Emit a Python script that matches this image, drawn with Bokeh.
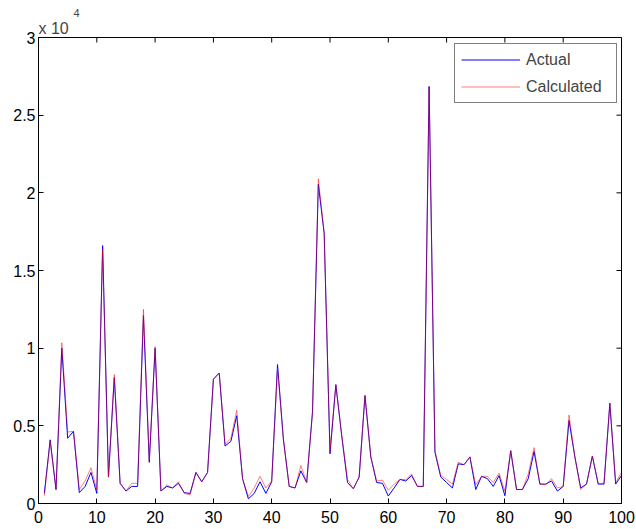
import math
from bokeh.plotting import figure
from bokeh.models import FixedTicker, Range1d, Legend, LegendItem, Title
from bokeh.embed import file_html
from bokeh.resources import INLINE

index = list(range(1, 101))

actual = [650, 4100, 900, 10000, 4200, 4650, 700, 1100, 2000, 650,
          16600, 1700, 8100, 1300, 800, 1100, 1100, 12100, 2650, 10000,
          800, 1100, 1000, 1300, 700, 650, 2000, 1400, 2000, 8000,
          8400, 3700, 4000, 5650, 1600, 300, 650, 1400, 650, 1400,
          8950, 4150, 1100, 1000, 2100, 1350, 5900, 20550, 17400, 3200,
          7650, 4400, 1350, 950, 1700, 6950, 3000, 1350, 1300, 480,
          1000, 1550, 1450, 1800, 1100, 1100, 26850, 3300, 1700, 1350,
          1000, 2550, 2500, 3000, 900, 1750, 1600, 1100, 1800, 500,
          3400, 900, 900, 1600, 3350, 1250, 1250, 1450, 800, 1100,
          5350, 3000, 1000, 1250, 3050, 1250, 1250, 6450, 1250, 1800]

calculated = [500, 4000, 900, 10350, 4600, 4650, 900, 1450, 2300, 900,
              16400, 1700, 8300, 1300, 800, 1300, 1300, 12500, 2750, 10100,
              800, 1200, 1000, 1400, 650, 550, 2000, 1400, 2000, 8000,
              8400, 3800, 4200, 6000, 1600, 450, 1000, 1750, 1000, 1450,
              8700, 4150, 1100, 1000, 2450, 1350, 5900, 20900, 17400, 3400,
              7650, 4400, 1550, 950, 1700, 6950, 3000, 1450, 1500, 850,
              1250, 1550, 1550, 1900, 1100, 1100, 26750, 3400, 1800, 1550,
              1250, 2650, 2500, 3000, 1200, 1750, 1750, 1350, 1950, 800,
              3400, 900, 900, 1900, 3600, 1250, 1200, 1600, 1000, 1100,
              5700, 3000, 900, 1250, 3050, 1300, 1300, 6450, 1350, 2000]

x_ticks = [0, 10, 20, 30, 40, 50, 60, 70, 80, 90, 100]
y_ticks = [0, 5000, 10000, 15000, 20000, 25000, 30000]
y_tick_labels = ["0", "0.5", "1", "1.5", "2", "2.5", "3"]
x_min, x_max = 0, 100
y_min, y_max = 0, 30000

FONT = "Liberation Sans"
FS = "16px"

p = figure(width=636, height=529, output_backend="svg", toolbar_location=None,
           x_range=Range1d(x_min, x_max), y_range=Range1d(y_min, y_max),
           min_border_left=38, min_border_right=15, min_border_top=37, min_border_bottom=26)
p.xgrid.visible = False
p.ygrid.visible = False
p.outline_line_color = "black"
p.outline_line_width = 1
p.background_fill_color = "white"
p.border_fill_color = "white"

for ax in (p.xaxis[0], p.yaxis[0]):
    ax.axis_line_color = "black"
    ax.major_tick_line_color = "black"
    ax.major_tick_in = 5
    ax.major_tick_out = 0
    ax.minor_tick_line_color = None
    ax.major_label_text_font = FONT
    ax.major_label_text_font_size = FS
    ax.major_label_text_color = "black"

p.xaxis.ticker = FixedTicker(ticks=x_ticks)
p.yaxis.ticker = FixedTicker(ticks=y_ticks)
p.yaxis.major_label_overrides = {v: s for v, s in zip(y_ticks, y_tick_labels)}
p.xaxis.major_label_standoff = 7
p.yaxis.major_label_standoff = 3

# inward ticks on top and right edges (half of each dash is clipped by the frame)
p.scatter(x_ticks, [y_max] * len(x_ticks), marker="dash", size=10,
          angle=math.pi / 2, line_color="black", line_width=1)
p.scatter([x_max] * len(y_ticks), y_ticks, marker="dash", size=10,
          angle=0, line_color="black", line_width=1)

r1 = p.line(index, actual, line_color="#0000FF", line_width=1)
r2 = p.line(index, calculated, line_color="#FF0000", line_alpha=0.5, line_width=1)

legend = Legend(items=[LegendItem(label="Actual", renderers=[r1]),
                       LegendItem(label="Calculated", renderers=[r2])],
                location=(416, 400))
legend.border_line_color = "black"
legend.border_line_width = 1
legend.background_fill_color = "white"
legend.background_fill_alpha = 1
legend.label_text_font = FONT
legend.label_text_font_size = FS
legend.glyph_width = 59
legend.glyph_height = 19
legend.label_height = 19
legend.label_width = 84
legend.label_standoff = 6
legend.padding = 6
legend.spacing = 8
legend.margin = 0
p.add_layout(legend)

p.add_layout(Title(text="x 10", align="left", text_font=FONT, text_font_size=FS,
                   text_font_style="normal", standoff=2, offset=0), "above")
p.add_layout(Title(text="4", align="left", text_font=FONT, text_font_size="11px",
                   text_font_style="normal", standoff=0, offset=35), "above")

open("out.html", "w").write(file_html(p, INLINE))
